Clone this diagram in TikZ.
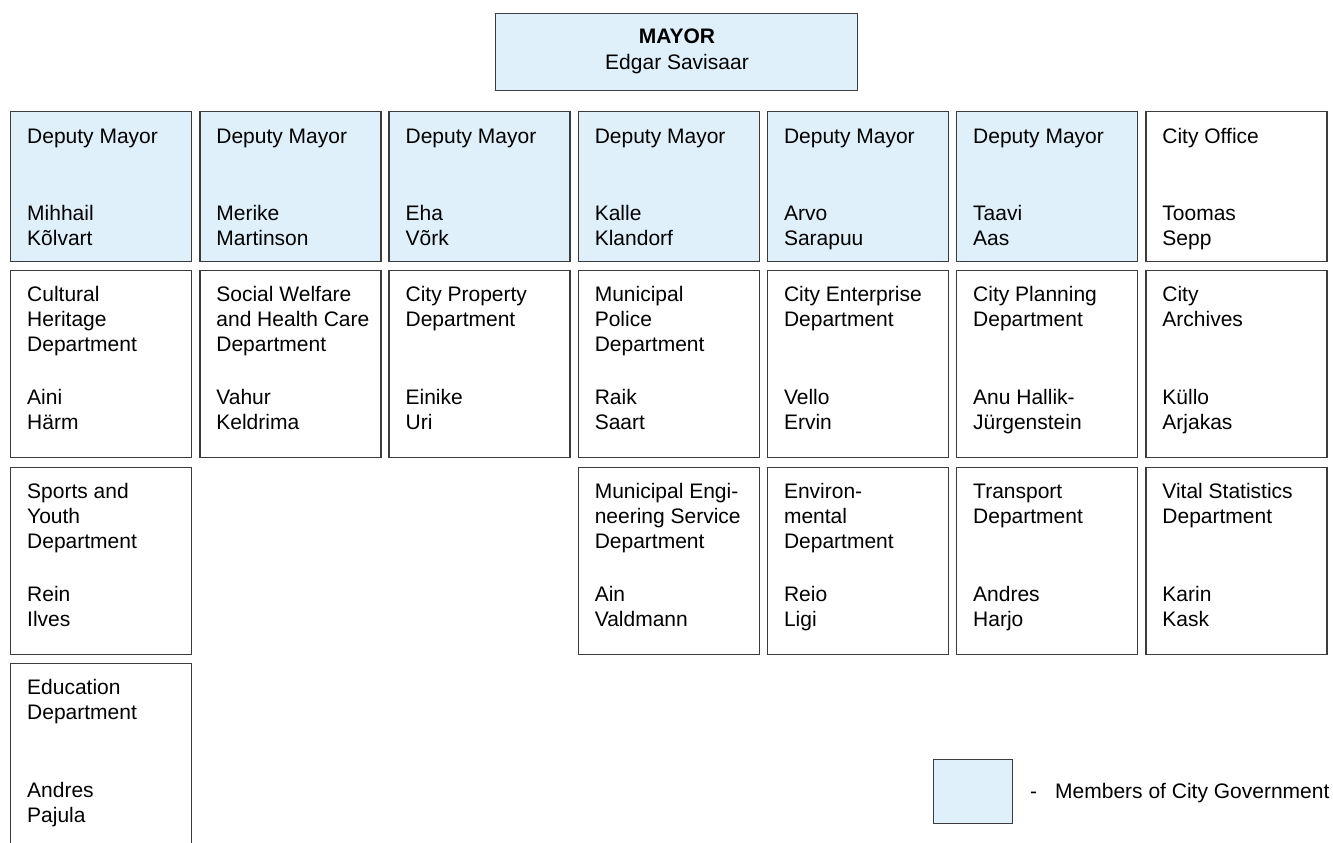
\documentclass[tikz,border=0pt]{standalone}
\usepackage{fontspec}
\setmainfont{Liberation Sans}
\definecolor{govblue}{HTML}{DFF0FB}
\definecolor{boxline}{HTML}{3C3C3C}
\tikzset{
  unitbox/.style={draw=boxline, line width=1.3pt, inner sep=0pt},
  govbox/.style={unitbox, fill=govblue},
  unittext/.style={anchor=north west, inner sep=0pt, align=left,
    font=\fontsize{21}{25}\selectfont},
}
% one box of the chart: name, column, top, height, style, title, head
\newcommand{\orgunit}[7]{%
  \node[#5, minimum width=181pt, minimum height=#4pt, anchor=north west]
    (#1) at ({10+189.2*(#2-1)}, #3) {};
  \node[unittext] (#1-title) at ([xshift=17pt, yshift=-\titledrop pt]#1.north west)
    {\rule{0pt}{16pt}#6};
  \node[unittext] (#1-head) at ([xshift=17pt, yshift=-\headdrop pt]#1.north west)
    {\rule{0pt}{16pt}#7};
}

\begin{document}
\begin{tikzpicture}[x=1pt, y=-1pt]
  \clip (0,0) rectangle (1333,843);

  % mayor
  \node[govbox, minimum width=362pt, minimum height=77pt, anchor=north east]
    (mayor) at (858,13) {};
  \node[unittext, anchor=base] (mayor-title) at (677,44) {\textbf{MAYOR}};
  \node[unittext, anchor=base] (mayor-name) at (677,70) {Edgar Savisaar};

  % deputy mayors and city office
  \def\titledrop{16}
  \def\headdrop{93}
  \foreach \first/\last [count=\i] in {Mihhail/Kõlvart, Merike/Martinson,
      Eha/Võrk, Kalle/Klandorf, Arvo/Sarapuu, Taavi/Aas} {
    \orgunit{dm\i}{\i}{111}{150}{govbox}{Deputy Mayor}{\first\\\last}
  }
  \orgunit{office}{7}{111}{150}{unitbox}{City Office}{Toomas\\Sepp}

  % departments
  \def\titledrop{15}
  \def\headdrop{118}
  \orgunit{heritage}{1}{270}{187}{unitbox}{Cultural\\Heritage\\Department}{Aini\\Härm}
  \orgunit{welfare}{2}{270}{187}{unitbox}{Social Welfare\\and Health Care\\Department}{Vahur\\Keldrima}
  \orgunit{property}{3}{270}{187}{unitbox}{City Property\\Department}{Einike\\Uri}
  \orgunit{police}{4}{270}{187}{unitbox}{Municipal\\Police\\Department}{Raik\\Saart}
  \orgunit{enterprise}{5}{270}{187}{unitbox}{City Enterprise\\Department}{Vello\\Ervin}
  \orgunit{planning}{6}{270}{187}{unitbox}{City Planning\\Department}{Anu Hallik-\\Jürgenstein}
  \orgunit{archives}{7}{270}{187}{unitbox}{City\\Archives}{Küllo\\Arjakas}

  \orgunit{sports}{1}{467}{187}{unitbox}{Sports and\\Youth\\Department}{Rein\\Ilves}
  \orgunit{engineering}{4}{467}{187}{unitbox}{Municipal Engi-\\neering Service\\Department}{Ain\\Valdmann}
  \orgunit{environment}{5}{467}{187}{unitbox}{Environ-\\mental\\Department}{Reio\\Ligi}
  \orgunit{transport}{6}{467}{187}{unitbox}{Transport\\Department}{Andres\\Harjo}
  \orgunit{statistics}{7}{467}{187}{unitbox}{Vital Statistics\\Department}{Karin\\Kask}

  \orgunit{education}{1}{663}{200}{unitbox}{Education\\Department}{Andres\\Pajula}

  % legend
  \node[govbox, minimum width=79pt, minimum height=64pt, anchor=north west]
    (legend) at (933,759) {};
  \node[unittext, anchor=base west] (legend-dash) at (1030,798) {-};
  \node[unittext, anchor=base west] (legend-text) at (1055,798) {Members of City Government};
\end{tikzpicture}
\end{document}
